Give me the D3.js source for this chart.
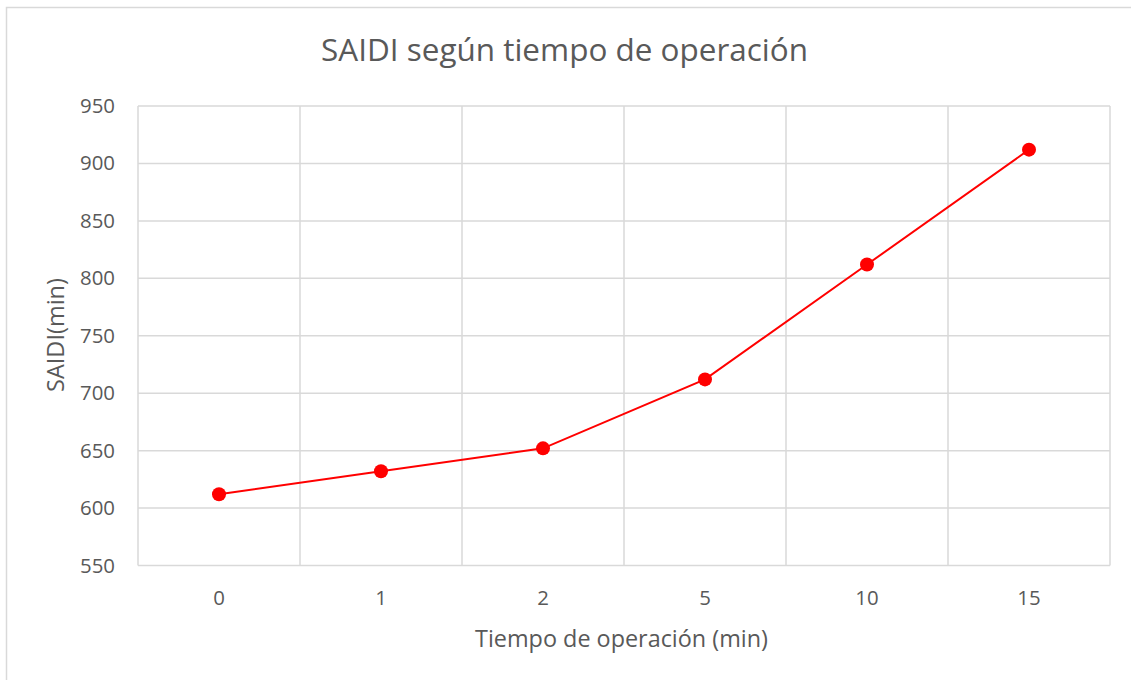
<!DOCTYPE html>
<html><head><meta charset="utf-8">
<script src="https://cdn.jsdelivr.net/npm/d3@7"></script>
<style>html,body{margin:0;padding:0;background:#fff;overflow:hidden}</style>
</head><body>
<svg id="c" width="1131" height="680"></svg>
<script>
const categories = ["0", "1", "2", "5", "10", "15"];
const saidiValues = [612, 632, 652, 712, 812, 912];
const yTicks = [550, 600, 650, 700, 750, 800, 850, 900, 950];
const titleText = "SAIDI según tiempo de operación";
const xTitle = "Tiempo de operación (min)";
const yTitle = "SAIDI(min)";

const svg = d3.select("#c");
const font = "'Open Sans', sans-serif";
const txt = "#595959", grid = "#d9d9d9";

// fit a text element's font size so its rendered length matches a target
function fit(sel, target) {
  const base = 20;
  sel.style("font-size", base + "px");
  const w = sel.node().getComputedTextLength();
  sel.style("font-size", (base * target / w).toFixed(2) + "px");
  return sel;
}

// chart border
svg.append("rect").attr("x", 6.5).attr("y", 7.5).attr("width", 1140).attr("height", 700)
  .attr("fill", "#fff").attr("stroke", "#d9d9d9").attr("stroke-width", 1.5);

const L = 138, R = 1110, T = 106, B = 565.5;
const x = d3.scaleBand().domain(categories).range([L, R]).padding(0);
const y = d3.scaleLinear().domain([550, 950]).range([B, T]);

// horizontal gridlines
svg.append("g").selectAll("line").data(yTicks).join("line")
  .attr("x1", L).attr("x2", R).attr("y1", d => y(d)).attr("y2", d => y(d))
  .attr("stroke", grid).attr("stroke-width", 1.5);
// vertical gridlines at band edges
const edges = categories.map(c => x(c)).concat([x(categories[categories.length-1]) + x.bandwidth()]);
svg.append("g").selectAll("line").data(edges).join("line")
  .attr("x1", d => d).attr("x2", d => d).attr("y1", T).attr("y2", B)
  .attr("stroke", grid).attr("stroke-width", 1.5);

// measure tick font size from "950" width
const probe = svg.append("text").style("font-family", font).text("950");
fit(probe, 35);
const tickFs = probe.style("font-size");
probe.remove();

// y axis labels
const yAxis = d3.axisLeft(y).tickValues(yTicks).tickSize(0).tickPadding(23);
const gy = svg.append("g").attr("transform", `translate(${L},0)`).call(yAxis);
gy.select(".domain").remove();
gy.selectAll("text").attr("fill", txt).style("font-family", font).style("font-size", tickFs);

// x axis labels
const xAxis = d3.axisBottom(x).tickSize(0).tickPadding(0);
const gx = svg.append("g").attr("transform", `translate(0,${B})`).call(xAxis);
gx.select(".domain").remove();
gx.selectAll("text").attr("fill", txt).style("font-family", font).style("font-size", tickFs)
  .attr("y", 605 - B).attr("dy", null);

// line
const line = d3.line().x((d, i) => x(categories[i]) + x.bandwidth() / 2).y(d => y(d));
svg.append("path").datum(saidiValues).attr("d", line)
  .attr("fill", "none").attr("stroke", "#ff0000").attr("stroke-width", 2);
svg.append("g").selectAll("circle").data(saidiValues).join("circle")
  .attr("cx", (d, i) => x(categories[i]) + x.bandwidth() / 2).attr("cy", d => y(d))
  .attr("r", 7).attr("fill", "#ff0000");

// titles
fit(svg.append("text").attr("x", 564.5).attr("y", 61).attr("text-anchor", "middle")
  .attr("fill", txt).style("font-family", font).text(titleText), 487);
fit(svg.append("text").attr("x", 621.5).attr("y", 647).attr("text-anchor", "middle")
  .attr("fill", txt).style("font-family", font).text(xTitle), 293);
fit(svg.append("text").attr("transform", "translate(64,335) rotate(-90)").attr("text-anchor", "middle")
  .attr("fill", txt).style("font-family", font).text(yTitle), 114);
</script>
</body></html>
